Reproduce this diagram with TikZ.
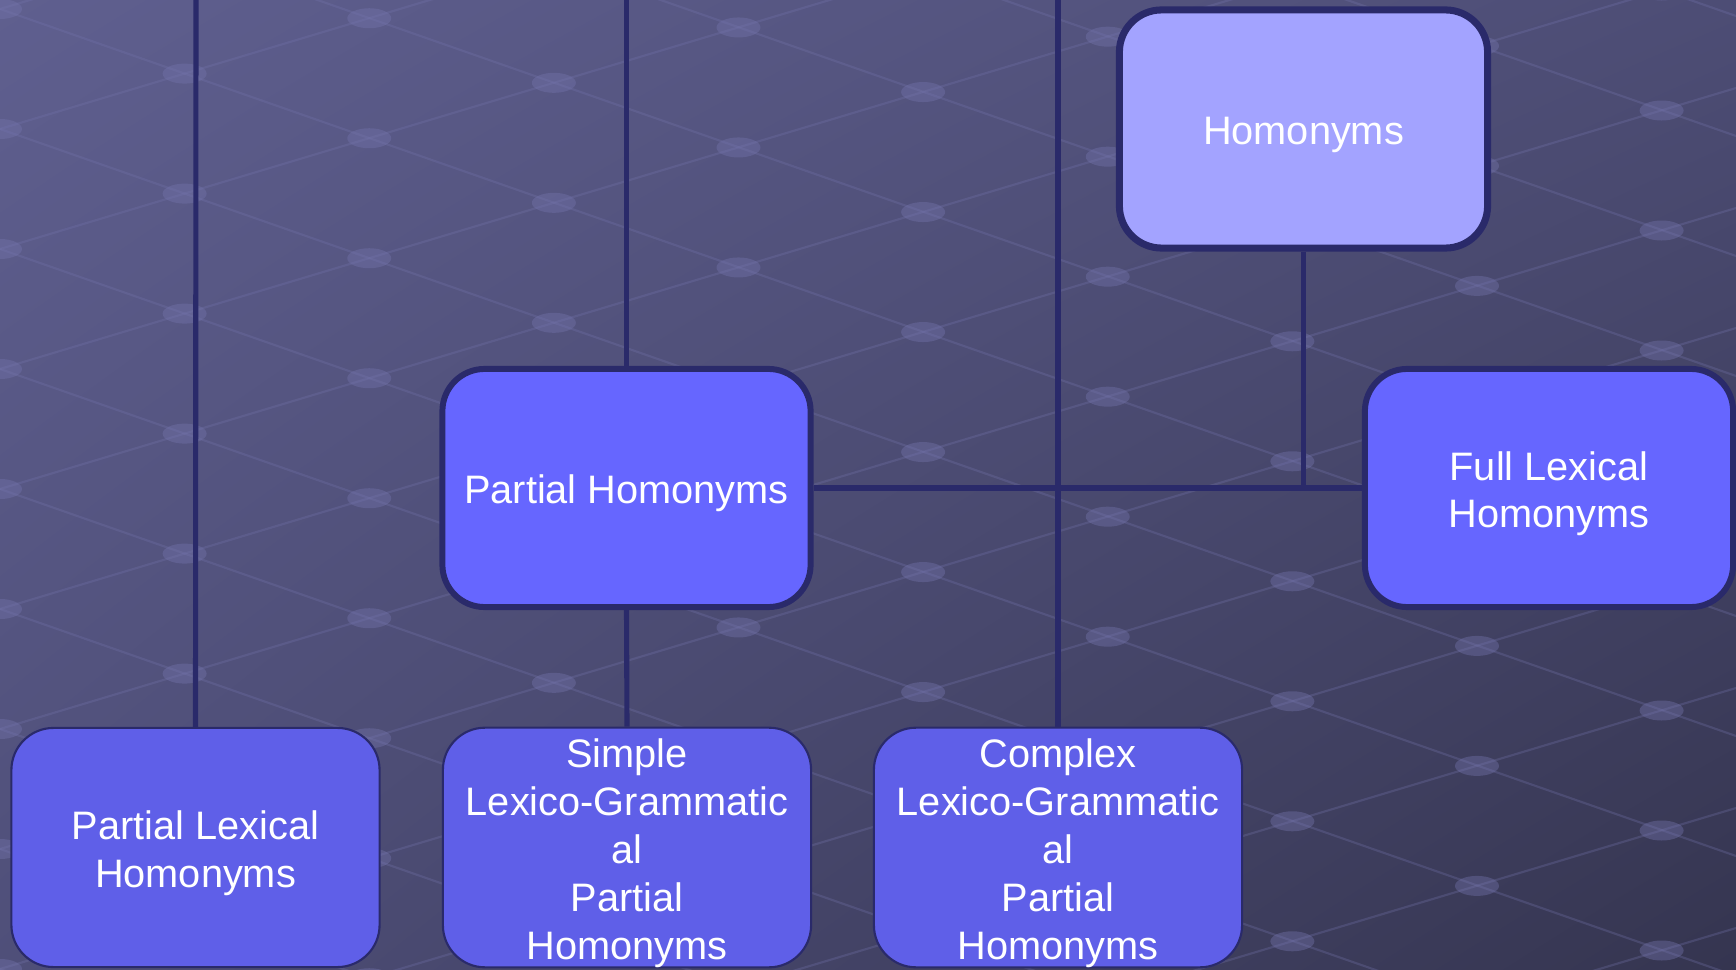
\documentclass[tikz,border=0pt]{standalone}
\usepackage{fontspec}
\setmainfont{Liberation Sans}
\usetikzlibrary{positioning, shadings}
\definecolor{bgtl}{HTML}{5F5F8F}
\definecolor{bgtr}{HTML}{4D4D75}
\definecolor{bgbl}{HTML}{4F4F79}
\definecolor{bgbr}{HTML}{353550}
\definecolor{navy}{HTML}{2A2A6A}
\definecolor{lightfill}{HTML}{A3A3FF}
\definecolor{midfill}{HTML}{6666FF}
\definecolor{lowfill}{HTML}{5F5FE8}
\definecolor{gridc}{HTML}{7474AC}
\newcommand{\lift}{\rule{0pt}{11.4pt}}
\tikzset{
  box/.style = {draw = navy, rounded corners = 12pt, text = white, align = center,
    minimum width = 3.68cm, font = \fontsize{11.3}{13.6}\selectfont},
  bigbox/.style = {box, line width = 2pt, minimum height = 2.38cm},
  lowbox/.style = {box, fill = lowfill, line width = 0.6pt, inner sep = 0pt, minimum height = 2.39cm},
  link/.style = {navy, line width = 1.45pt},
  gridline/.style = {gridc, opacity = 0.3, line width = 0.6pt},
  gridspot/.style = {gridc, opacity = 0.4}
}
\begin{document}
\begin{tikzpicture}[x = 0.01cm, y = 0.01cm]
        \useasboundingbox (0, 0) rectangle (1736, 969);
        % background
        \shade[upper left = bgtl, upper right = bgtr, lower left = bgbl, lower right = bgbr]
            (0, 0) rectangle (1736, 969);
        \begin{scope}
        \clip (0, 0) rectangle (1736, 969);
        \foreach \c in {-600, -480, ..., 1600} {
            \draw[gridline] (0, \c) -- (1736, \c - 607);
            \draw[gridline] (0, \c) -- (1736, \c + 521);
        }
        \foreach \a in {-600, -480, ..., 1600}
            \foreach \b in {-600, -480, ..., 1600}
                \fill[gridspot] ({(\a - \b) / 0.65}, {\b + 0.3 * (\a - \b) / 0.65}) ellipse (22 and 10);
        \end{scope}
        % boxes
        \node[bigbox, fill = lightfill] (hom) at (1303.5, 840) {\lift Homonyms};
        \node[bigbox, fill = midfill, line width = 1.7pt] (phom) at (626.5, 481) {\lift Partial Homonyms};
        \node[bigbox, fill = midfill, line width = 1.7pt] (flex) at (1549, 481) {\lift Full Lexical\\Homonyms};
        \node[lowbox] (plex) at (195.5, 121.5) {\lift Partial Lexical\\Homonyms};
        \node[lowbox] (slg) at (627, 121.5) {\lift Simple\\Lexico-Grammatic\\al\\Partial\\Homonyms};
        \node[lowbox] (clg) at (1058, 121.5) {\lift Complex\\Lexico-Grammatic\\al\\Partial\\Homonyms};
        % links
        \coordinate (t1) at (196, 969);
        \coordinate (t2) at (626.5, 969);
        \coordinate (t3) at (1058, 969);
        \draw[link] (t1) -- (plex.north);
        \draw[link] (t2) -- (phom.north);
        \draw[link] (phom.south) -- (slg.north);
        \draw[link] (t3) -- (clg.north);
        \draw[link] (phom.east) -- (flex.west);
        \draw[link] (hom.south) -- (hom.south |- phom.east);
        \end{tikzpicture}
\end{document}
